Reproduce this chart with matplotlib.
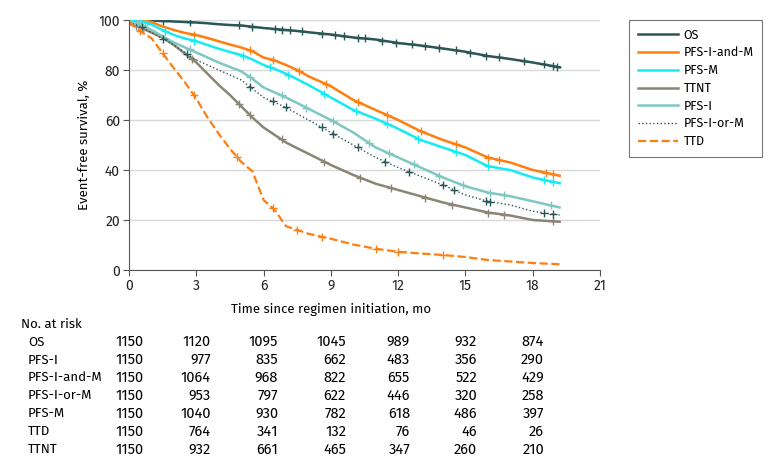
import numpy as np
import matplotlib.pyplot as plt

plt.rcParams['font.family'] = ['Fira Sans', 'DejaVu Sans']

# time grid (months) and survival estimates (%)
t = [0, 0.5, 1, 1.5, 2, 2.5, 3, 3.5, 4, 4.5, 5, 5.5, 6, 6.5, 7, 7.5, 8, 9, 10, 11, 12, 13, 14, 15, 16, 17, 18, 19.2]

os_s = [100, 100, 99.8, 99.6, 99.4, 99.2, 99.0, 98.7, 98.3, 98.0, 97.8, 97.3, 96.8, 96.4, 96.0, 95.6, 95.1, 94.2, 93.0, 92.2, 90.8, 89.8, 88.6, 87.3, 85.6, 84.4, 83.0, 81.1]
pfs_im = [100, 100, 99.2, 97.4, 96.0, 94.8, 94.0, 92.8, 91.5, 90.2, 89.0, 87.5, 85.0, 83.8, 82.0, 80.0, 77.5, 73.5, 68.0, 64.0, 60.0, 55.5, 52.0, 49.0, 45.0, 43.0, 40.0, 37.7]
pfs_m = [100, 99.6, 98.2, 96.0, 94.0, 92.6, 91.5, 90.0, 88.5, 87.2, 86.0, 84.2, 82.0, 80.4, 78.5, 76.3, 74.0, 69.0, 64.0, 60.5, 56.5, 52.0, 49.0, 46.0, 41.5, 40.0, 37.0, 34.7]
ttnt = [98.5, 97.0, 95.0, 93.0, 90.0, 86.5, 83.0, 78.5, 74.0, 70.0, 65.5, 61.0, 57.0, 54.0, 51.0, 48.7, 46.5, 42.0, 38.0, 34.5, 32.0, 29.5, 27.0, 25.0, 23.0, 21.8, 20.0, 19.3]
pfs_i = [99.5, 98.5, 96.0, 93.5, 91.0, 89.0, 87.0, 85.0, 83.0, 81.2, 79.5, 76.5, 73.0, 71.0, 69.0, 66.8, 64.5, 60.0, 55.0, 49.0, 45.0, 41.0, 37.0, 33.5, 31.0, 29.5, 27.5, 25.0]
pfs_iom = [99.0, 97.5, 95.0, 92.5, 90.0, 87.0, 84.0, 82.0, 80.0, 78.0, 76.0, 72.5, 69.0, 67.0, 65.0, 62.5, 60.0, 55.0, 50.0, 45.0, 41.0, 37.5, 34.0, 30.0, 27.5, 26.0, 23.5, 22.0]
ttd = [99.3, 95.5, 92.7, 86.7, 80.7, 75.0, 68.5, 61.0, 54.5, 48.5, 43.3, 39.5, 28.0, 24.0, 17.5, 16.0, 14.5, 12.5, 10.2, 8.5, 7.3, 6.6, 6.0, 5.2, 4.0, 3.4, 2.8, 2.3]

labels = ['OS', 'PFS-I-and-M', 'PFS-M', 'TTNT', 'PFS-I', 'PFS-I-or-M', 'TTD']
series = [os_s, pfs_im, pfs_m, ttnt, pfs_i, pfs_iom, ttd]
colors = ['#2b5656', '#ff7f0e', '#12ecf2', '#8a8675', '#7fc7c3', '#2b5656', '#ff7f0e']
styles = ['-', '-', '-', '-', '-', ':', '--']
widths = [1.8, 1.8, 1.8, 1.8, 1.8, 1.0, 1.6]

# censoring times (months) per series
censor = [
    [0.9, 1.5, 2.7, 4.9, 5.5, 6.5, 6.8, 7.2, 7.7, 8.6, 9.2, 9.6, 10.2, 10.5, 11.3, 11.9, 12.6, 13.2, 13.8, 14.6, 15.2, 15.9, 16.5, 17.6, 18.5, 18.9, 19.1],
    [0.8, 2.9, 5.4, 6.4, 7.6, 8.8, 10.2, 11.5, 13.0, 14.6, 16.0, 16.5, 18.6, 18.9],
    [0.7, 1.6, 2.9, 5.1, 6.3, 7.1, 8.7, 10.1, 11.5, 12.9, 14.6, 16.0, 18.5, 18.9],
    [0.3, 2.8, 4.9, 5.4, 6.8, 8.7, 10.3, 11.7, 13.2, 14.4, 16.0, 16.7, 18.9],
    [0.4, 2.7, 5.4, 6.8, 7.9, 9.1, 10.7, 11.6, 12.7, 13.8, 14.9, 16.1, 16.7, 18.8],
    [0.6, 1.5, 2.6, 5.4, 6.4, 7.0, 8.6, 9.1, 10.2, 11.4, 12.5, 14.0, 14.5, 15.9, 16.1, 18.5, 18.9],
    [0.5, 1.5, 2.9, 4.8, 6.4, 7.5, 8.6, 11.0, 12.0, 14.0],
]

risk_rows = ['OS', 'PFS-I', 'PFS-I-and-M', 'PFS-I-or-M', 'PFS-M', 'TTD', 'TTNT']
risk = [
    [1150, 1120, 1095, 1045, 989, 932, 874],
    [1150, 977, 835, 662, 483, 356, 290],
    [1150, 1064, 968, 822, 655, 522, 429],
    [1150, 953, 797, 622, 446, 320, 258],
    [1150, 1040, 930, 782, 618, 486, 397],
    [1150, 764, 341, 132, 76, 46, 26],
    [1150, 932, 661, 465, 347, 260, 210],
]

fs = 9.5
fig = plt.figure(figsize=(7.8, 4.67), dpi=100)
ax = fig.add_axes([129 / 780, 197 / 467, 471 / 780, 250 / 467])

for s, lab, c, ls, lw, ct in zip(series, labels, colors, styles, widths, censor):
    ax.plot(t, s, color=c, ls=ls, lw=lw, label=lab)
    ax.plot(ct, np.interp(ct, t, s), ls='none', marker='+', ms=5.5, mew=1.0, color=c)

ax.set_xlim(0, 21)
ax.set_ylim(0, 100)
ax.set_xticks(range(0, 22, 3))
ax.set_yticks(range(0, 101, 20))
ax.grid(axis='y', color='#d9d9d9', lw=1)
ax.set_axisbelow(True)
for side in ['top', 'right']:
    ax.spines[side].set_visible(False)
for side in ['left', 'bottom']:
    ax.spines[side].set_color('#555555')
ax.tick_params(colors='#222222', labelsize=10, length=4, color='#555555', pad=2.5)
ax.set_xlabel('Time since regimen initiation, mo', fontsize=fs)
ax.xaxis.set_label_coords((331 - 129) / 471, -33 / 250)
ax.set_ylabel('Event-free survival, %', fontsize=fs, labelpad=6)

leg = fig.legend(loc='upper left', bbox_to_anchor=(629 / 780, 1 - 20 / 467), fontsize=9,
                 frameon=True, fancybox=False, edgecolor='#555555', handlelength=3.2,
                 borderpad=0.7, labelspacing=0.42, handletextpad=0.45, borderaxespad=0)
leg.get_frame().set_linewidth(0.8)

# risk table
fig.text(21 / 780, 1 - 324 / 467, 'No. at risk', fontsize=fs, va='center')
col_x = [144, 211, 278, 346, 410, 477, 544]
for i, (name, vals) in enumerate(zip(risk_rows, risk)):
    y = 1 - (342 + i * 17.9) / 467
    fig.text(28 / 780, y, name, fontsize=fs, va='center')
    for xpix, v in zip(col_x, vals):
        fig.text(xpix / 780, y, str(v), fontsize=10.5, va='center', ha='right')

fig.savefig('out.png', dpi=100)
